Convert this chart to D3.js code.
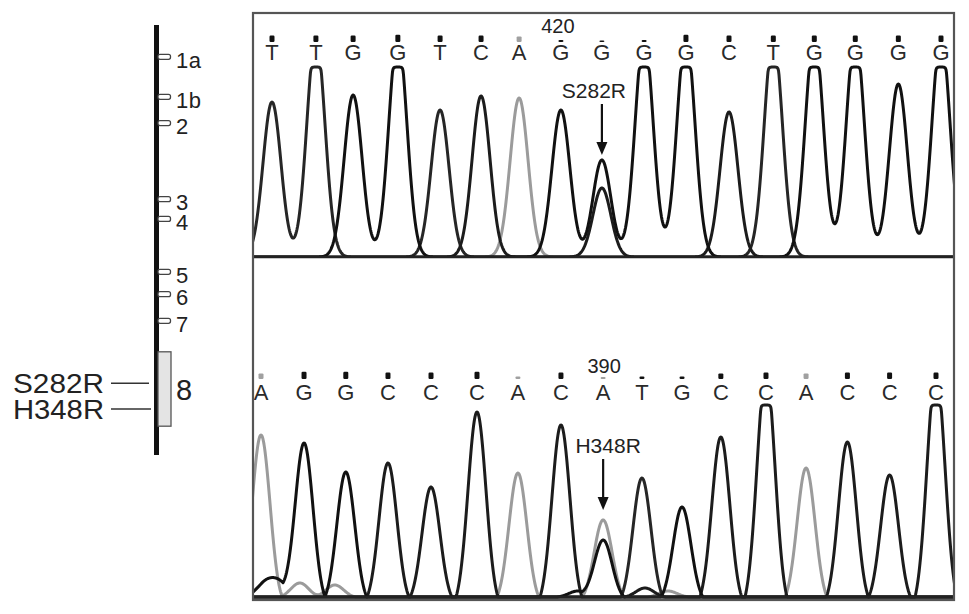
<!DOCTYPE html>
<html><head><meta charset="utf-8">
<script src="https://cdn.jsdelivr.net/npm/d3@7/dist/d3.min.js"></script>
<style>
html,body{margin:0;padding:0;background:#fff;}
svg{display:block;font-family:"Liberation Sans",Arial,Helvetica,sans-serif;}
</style>
</head><body>
<svg id="chart" width="969" height="614"></svg>
<script>
// ---------------- DATA ----------------
// Gene diagram (relative position along gene, 0..100)
const exonNames = ['1a','1b','2','3','4','5','6','7'];
const exonPos = [7.4, 16.7, 22.8, 40.5, 45.1, 57.4, 62.6, 68.8];
const lastExonName = '8';
const lastExonRange = [76.0, 93.3];
const mutationNames = ['S282R','H348R'];
const mutationGenePos = [83.3, 89.3];

// Top chromatogram (S282R)
const topBases = ['T','T','G','G','T','C','A','G','G','G','G','C','T','G','G','G','G'];
const topPeakPos = [0, 1.05, 1.94, 3.01, 4.02, 5.0, 5.91, 6.91, 7.89, 8.9, 9.9, 10.93, 11.99, 12.97, 13.95, 14.98, 16.0];
const topPeakHeight = [155, 222, 162, 222, 147, 161, 159, 147, 97, 222, 222, 145, 222, 222, 222, 173, 222];
const topQuality = [40, 40, 40, 45, 40, 40, 35, 12, 10, 12, 45, 40, 40, 40, 40, 40, 40];
const topMinorBases = ['C'];
const topMinorPos = [7.89];
const topMinorHeight = [69];
const topPositionLabel = '420';
const topPositionIndex = 7;
const topMutation = 'S282R';
const topMutationIndex = 8;

// Bottom chromatogram (H348R)
const botBases = ['A','G','G','C','C','C','A','C','A','T','G','C','C','A','C','C','C'];
const botPeakPos = [0, 1.02, 2.01, 3.01, 4.03, 5.12, 6.09, 7.11, 8.11, 9.03, 9.98, 10.9, 11.97, 12.92, 13.9, 14.9, 16.0];
const botPeakHeight = [162, 154, 125, 134, 110, 185, 124, 172, 77, 119, 90, 160, 226, 129, 155, 122, 226];
const botQuality = [35, 45, 45, 40, 40, 45, 15, 40, 12, 15, 15, 35, 40, 35, 40, 40, 40];
const botMinorBases = ['G', 'G', 'G', 'A', 'A', 'G', 'C', 'A'];
const botMinorPos = [8.11, 0.1, 0.45, 0.92, 1.75, 7.51, 9.1, 9.65];
const botMinorHeight = [57, 14, 14, 14, 12, 6, 9, 6];
const botPositionLabel = '390';
const botPositionIndex = 8;
const botMutation = 'H348R';
const botMutationIndex = 8;

// ---------------- STYLE ----------------
const traceColor = {A:'#9b9b9b', C:'#1c1c1c', G:'#111111', T:'#262626'};
const markColor = {A:'#a0a0a0', C:'#111', G:'#111', T:'#111'};
const drawOrder = ['A','T','C','G'];

const svg = d3.select('#chart');

// ---------------- GENE DIAGRAM ----------------
const gy = d3.scaleLinear().domain([0, 100]).range([25, 455]);
const axisX = 156.5;
const gene = svg.append('g');
gene.append('line').attr('x1', axisX).attr('x2', axisX)
  .attr('y1', gy(0)).attr('y2', gy(100))
  .attr('stroke', '#111').attr('stroke-width', 5);
exonNames.forEach((n, i) => {
  gene.append('rect').attr('x', 158).attr('y', gy(exonPos[i]) - 2.5)
    .attr('width', 12.5).attr('height', 5).attr('rx', 2)
    .attr('fill', '#fff').attr('stroke', '#444').attr('stroke-width', 1.3);
  gene.append('text').attr('x', 176).attr('y', gy(exonPos[i]) + 11)
    .attr('font-size', 22).attr('letter-spacing', 0.6).attr('fill', '#222').text(n);
});
gene.append('rect').attr('x', 158).attr('y', gy(lastExonRange[0]))
  .attr('width', 13).attr('height', gy(lastExonRange[1]) - gy(lastExonRange[0]))
  .attr('fill', '#e4e4e4').attr('stroke', '#555').attr('stroke-width', 1.3);
gene.append('text').attr('x', 176).attr('y', gy((lastExonRange[0] + lastExonRange[1]) / 2) + 11)
  .attr('font-size', 29).attr('fill', '#222').text(lastExonName);
mutationNames.forEach((n, i) => {
  const y = gy(mutationGenePos[i]);
  gene.append('line').attr('x1', 111).attr('x2', 149 + i * 2).attr('y1', y).attr('y2', y)
    .attr('stroke', '#333').attr('stroke-width', 1.4);
  gene.append('text').attr('x', 104).attr('y', y + 10).attr('text-anchor', 'end')
    .attr('font-size', 28).attr('textLength', 91).attr('lengthAdjust', 'spacingAndGlyphs')
    .attr('fill', '#222').text(n);
});

// ---------------- CHROMATOGRAMS ----------------
const frame = {x0: 253, x1: 954, y0: 13, y1: 600};

function drawPanel(cfg) {
  const x = d3.scaleLinear().domain([0, 16]).range(cfg.xRange);
  const y = d3.scaleLinear().domain([0, cfg.clip]).range([cfg.baseline, cfg.baseline - cfg.clip]);
  const g = svg.append('g');
  const clipId = 'clip' + cfg.id;
  svg.append('clipPath').attr('id', clipId).append('rect')
    .attr('x', frame.x0).attr('y', cfg.top).attr('width', frame.x1 - frame.x0).attr('height', cfg.bottom - cfg.top);

  const peaks = [];
  cfg.bases.forEach((b, i) => peaks.push({base: b, pos: cfg.pos[i], h: cfg.heights[i]}));
  cfg.minorBases.forEach((b, i) => peaks.push({base: b, pos: cfg.minorPos[i], h: cfg.minorHeights[i]}));

  const s = cfg.sigma, c = cfg.offset;
  const shape = d => Math.max(0, (Math.exp(-d * d / (2 * s * s)) - c) / (1 - c));
  const line = d3.line().x(d => x(d.p)).y(d => y(d.v)).curve(d3.curveLinear);

  const tg = g.append('g').attr('clip-path', `url(#${clipId})`);
  drawOrder.forEach(base => {
    const pk = peaks.filter(p => p.base === base);
    const pts = [];
    for (let px = frame.x0 - 2; px <= frame.x1 + 2; px += 0.5) {
      let v = 0;
      pk.forEach(p => { v += p.h * shape(px - x(p.pos)); });
      // soft saturation near the top of the panel
      const k = cfg.clip;
      const vv = v <= k - 8 ? v : k - 8 * Math.exp(-(v - (k - 8)) / 8);
      pts.push({p: x.invert(px), v: vv});
    }
    tg.append('path').attr('d', line(pts)).attr('fill', 'none')
      .attr('stroke', traceColor[base]).attr('stroke-width', 3)
      .attr('stroke-linejoin', 'round');
  });

  // base calls
  const qh = d3.scaleLinear().domain([0, 50]).range([0, 8]);
  cfg.bases.forEach((b, i) => {
    const cx = x(cfg.pos[i]);
    const h = qh(cfg.quality[i]);
    g.append('rect').attr('x', cx - 2.5).attr('y', cfg.markBase - h).attr('width', 5).attr('height', h)
      .attr('rx', 1.2).attr('fill', markColor[b]);
    g.append('text').attr('x', cx).attr('y', cfg.letterBase).attr('text-anchor', 'middle')
      .attr('font-size', 22).attr('fill', '#2a2a2a').text(b);
  });
  g.append('text').attr('x', x(cfg.pos[cfg.posLabelIndex]) + cfg.posDx).attr('y', cfg.letterBase - 27)
    .attr('text-anchor', 'middle').attr('font-size', 20).attr('fill', '#222').text(cfg.posLabel);

  // mutation arrow
  const mi = cfg.mutIndex;
  const mx = x(cfg.pos[mi]);
  const tip = y(cfg.heights[mi]) - cfg.tipGap;
  g.append('text').attr('x', mx + cfg.labelDx).attr('y', tip - 57).attr('text-anchor', 'middle')
    .attr('font-size', 21).attr('fill', '#222').text(cfg.mutation);
  g.append('line').attr('x1', mx).attr('x2', mx).attr('y1', tip - 51).attr('y2', tip - 8)
    .attr('stroke', '#111').attr('stroke-width', 2.2);
  g.append('path').attr('d', d3.line()([[mx - 5.5, tip - 13], [mx + 5.5, tip - 13], [mx, tip]]) + 'Z')
    .attr('fill', '#111');

  // baseline
  svg.append('line').attr('x1', frame.x0).attr('x2', frame.x1).attr('y1', cfg.baseline).attr('y2', cfg.baseline)
    .attr('stroke', '#222').attr('stroke-width', cfg.baseWidth);
}

drawPanel({id: 'T', xRange: [272, 941], top: frame.y0, bottom: 257.5, baseline: 257, clip: 190,
  sigma: 9, offset: 0, bases: topBases, pos: topPeakPos, heights: topPeakHeight, quality: topQuality,
  minorBases: topMinorBases, minorPos: topMinorPos, minorHeights: topMinorHeight,
  markBase: 42, letterBase: 60, posLabel: topPositionLabel, posLabelIndex: topPositionIndex, posDx: -3,
  mutation: topMutation, mutIndex: topMutationIndex, tipGap: 5, labelDx: -8, baseWidth: 2.5});

drawPanel({id: 'B', xRange: [261, 936], top: 257, bottom: frame.y1, baseline: 597, clip: 192,
  sigma: 9, offset: 0.066, bases: botBases, pos: botPeakPos, heights: botPeakHeight, quality: botQuality,
  minorBases: botMinorBases, minorPos: botMinorPos, minorHeights: botMinorHeight,
  markBase: 379, letterBase: 400, posLabel: botPositionLabel, posLabelIndex: botPositionIndex, posDx: 1,
  mutation: botMutation, mutIndex: botMutationIndex, tipGap: 10, labelDx: 5, baseWidth: 3});

svg.append('rect').attr('x', frame.x0).attr('y', frame.y0)
  .attr('width', frame.x1 - frame.x0).attr('height', frame.y1 - frame.y0)
  .attr('fill', 'none').attr('stroke', '#555').attr('stroke-width', 2.2);
</script>
</body></html>
